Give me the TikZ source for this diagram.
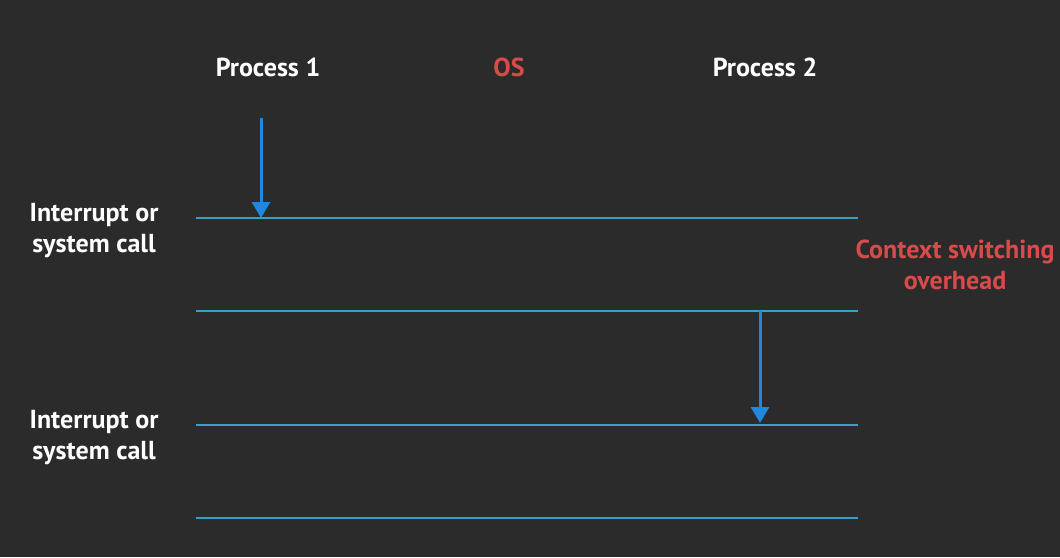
\documentclass[tikz,border=0pt]{standalone}
\usepackage{fontspec}
\setmainfont{PT Sans}
\usetikzlibrary{arrows.meta}
\definecolor{bg}{HTML}{2B2B2B}
\definecolor{lane}{HTML}{3A9FC6}
\definecolor{arr}{HTML}{1F87E0}
\definecolor{osred}{HTML}{D94B4B}
\begin{document}
\begin{tikzpicture}[x=1pt,y=-1pt,
  lbl/.style={text=white,font=\fontsize{26}{31}\selectfont\bfseries,align=center,inner sep=0pt},
  redlbl/.style={lbl,text=osred},
  laneline/.style={draw=lane,line width=2.8pt},
  flow/.style={draw=arr,line width=3pt,-{Triangle[length=16pt,width=18pt]}}]
\fill[bg] (0,0) rectangle (1060,557);
\useasboundingbox (0,0) rectangle (1060,557);
\node[lbl] (p1) at (268,67) {Process 1};
\node[redlbl] (os) at (509,67) {OS};
\node[lbl] (p2) at (765,67) {Process 2};
\node[lbl] (i1) at (94,231) {Interrupt or\\system call};
\node[lbl] (i2) at (94,438) {Interrupt or\\system call};
\node[redlbl] (cs) at (955,265) {Context switching\\overhead};
\coordinate (l1a) at (196,218); \coordinate (l1b) at (858,218);
\coordinate (l2a) at (196,311); \coordinate (l2b) at (858,311);
\coordinate (l3a) at (196,425); \coordinate (l3b) at (858,425);
\coordinate (l4a) at (196,518); \coordinate (l4b) at (858,518);
\draw[laneline] (l1a) -- (l1b);
\draw[laneline] (l2a) -- (l2b);
\draw[laneline] (l3a) -- (l3b);
\draw[laneline] (l4a) -- (l4b);
\coordinate (a1s) at (261,118); \coordinate (a1e) at (261,218);
\coordinate (a2s) at (760,311); \coordinate (a2e) at (760,423);
\draw[flow] (a1s) -- (a1e);
\draw[flow] (a2s) -- (a2e);
\end{tikzpicture}
\end{document}
